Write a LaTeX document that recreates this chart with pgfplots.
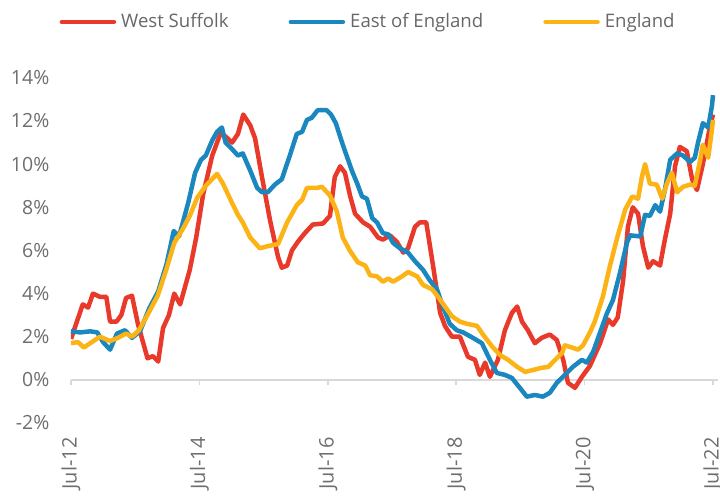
\documentclass[border=0pt]{standalone}
\usepackage{pgfplots}
\pgfplotsset{compat=1.18}
\usepackage{fontspec}
\setmainfont{Open Sans}
\definecolor{cRed}{HTML}{E8392A}
\definecolor{cBlue}{HTML}{1B87BF}
\definecolor{cOrange}{HTML}{FBB316}
\definecolor{cTick}{HTML}{6E6E6E}
\definecolor{cLeg}{HTML}{676767}
\definecolor{cAxis}{HTML}{D9D9D9}
\begin{document}
\begin{tikzpicture}
\begin{axis}[
  at={(0,0)}, anchor=south west,
  x=5.35bp, y=21.57bp,
  xmin=0, xmax=121, ymin=-2, ymax=14,
  axis x line=middle, axis y line=left,
  hide obscured x ticks=false, hide obscured y ticks=false,
  x axis line style={-, draw=cAxis, line width=1.5bp},
  y axis line style={draw=none},
  xtick={0,24,48,72,96,120},
  xticklabels={Jul-12,Jul-14,Jul-16,Jul-18,Jul-20,Jul-22},
  ytick={-2,0,2,4,6,8,10,12,14},
  yticklabels={-2\%,0\%,2\%,4\%,6\%,8\%,10\%,12\%,14\%},
  tick align=outside,
  major tick length=5.5bp,
  x tick style={draw=cAxis, line width=1.5bp},
  y tick style={draw=none},
  xticklabel style={font=\fontsize{20bp}{24bp}\selectfont, text=cTick, inner sep=0pt, yshift=-52bp, rotate=90, anchor=east},
  yticklabel style={font=\fontsize{19.5bp}{24bp}\selectfont, text=cTick, inner sep=0pt, anchor=east, xshift=-16bp},
  legend columns=3,
  legend style={draw=none, fill=none, inner sep=0pt, outer sep=0pt,
    at={(-0.0175,1.162)}, anchor=west,
    font=\fontsize{18.6bp}{22bp}\selectfont, text=cLeg,
    nodes={inner sep=0pt},
    /tikz/every odd column/.append style={column sep=5bp},
    /tikz/every even column/.append style={column sep=60bp, text height=13.4bp, text depth=0pt}},
  legend image code/.code={\draw[line width=4.5bp, line cap=round] (0bp,0bp) -- (52bp,0bp);},
  every axis plot/.append style={line width=4.5bp, line join=round, no markers},
]
\addplot[cRed] coordinates {
(0,1.9) (2.2,3.5) (3.2,3.35) (4.1,4.0) (5.4,3.85) (6.6,3.85) (7.3,2.7) (8.5,2.7) (9.4,3.0) (10.3,3.8) (11.4,3.9) (12.5,2.6) (13.4,1.8) (14.3,1.0) (15.3,1.1) (16.3,0.85) (17.2,2.4) (18.3,3.0) (19.3,4.0) (20.4,3.5) (22.2,5.1) (23.4,6.6) (24.7,8.6) (26.4,10.4) (27.9,11.4) (28.8,11.3) (30.1,11.0) (31.2,11.4) (32.2,12.3) (33.5,11.8) (34.4,11.2) (35.7,9.4) (37.2,7.4) (38.7,5.7) (39.4,5.2) (40.4,5.3) (41.3,6.0) (42.4,6.4) (43.7,6.8) (45.2,7.2) (47.1,7.25) (48.4,7.6) (49.3,9.4) (50.3,9.9) (51.2,9.6) (52.2,8.5) (53.1,7.7) (54.6,7.3) (55.9,7.1) (57.4,6.6) (58.3,6.5) (59.6,6.7) (60.9,6.4) (62.1,5.9) (63.0,6.1) (64.3,7.1) (65.2,7.3) (66.4,7.3) (67.7,5.25) (69.0,3.1) (69.9,2.5) (71.2,2.0) (72.7,2.0) (74.2,1.07) (75.5,0.93) (76.4,0.23) (77.4,0.8) (78.3,0.14) (79.8,0.93) (81.1,2.3) (82.4,3.1) (83.4,3.4) (84.3,2.7) (85.4,2.3) (86.7,1.7) (88.0,1.95) (89.5,2.1) (90.8,1.85) (92.0,0.93) (92.9,-0.14) (94.2,-0.37) (95.5,0.14) (97.0,0.65) (98.9,1.7) (100.4,2.8) (101.3,2.55) (102.2,2.9) (103.2,4.6) (104.1,7.1) (105.0,8.0) (106.0,7.7) (106.9,6.2) (107.9,5.2) (108.8,5.5) (110.1,5.3) (111.0,6.5) (112.0,7.7) (112.9,9.9) (113.8,10.8) (115.1,10.6) (116.1,9.3) (117.0,8.8) (118.1,10.0) (119.4,11.7) (120,12.3)
};
\addlegendentry{West Suffolk}
\addplot[cBlue] coordinates {
(0,2.25) (1.7,2.2) (3.6,2.25) (4.9,2.2) (6.0,1.75) (7.3,1.4) (8.6,2.15) (10.1,2.3) (11.4,1.95) (12.9,2.25) (14.6,3.3) (16.3,4.1) (17.9,5.4) (19.2,6.9) (20.2,6.65) (21.9,8.2) (23.2,9.6) (24.3,10.2) (25.2,10.4) (26.4,11.1) (27.3,11.5) (28.2,11.7) (28.9,11.0) (30.1,10.7) (31.2,10.4) (32.1,10.5) (33.5,9.7) (34.8,8.9) (35.7,8.7) (36.8,8.7) (38.1,9.05) (39.4,9.3) (40.9,10.4) (42.2,11.4) (43.2,11.5) (44.1,12.05) (45.0,12.15) (46.1,12.5) (47.8,12.5) (48.6,12.3) (49.5,11.9) (50.8,10.9) (52.5,9.7) (53.5,9.1) (54.4,8.5) (55.3,8.4) (56.3,7.5) (57.2,7.3) (58.3,6.8) (59.3,6.75) (60.2,6.35) (61.5,6.1) (63.0,5.9) (64.3,5.5) (65.8,5.1) (67.1,4.6) (68.4,4.2) (69.5,3.4) (70.8,2.6) (72.1,2.3) (73.3,2.2) (75.1,1.95) (76.8,1.7) (78.3,0.93) (79.6,0.32) (81.1,0.23) (82.4,0.09) (83.9,-0.37) (85.2,-0.78) (86.7,-0.7) (88.2,-0.78) (89.5,-0.6) (90.8,-0.14) (92.3,0.23) (93.8,0.6) (95.5,0.93) (96.4,0.8) (97.6,1.3) (98.9,2.2) (100.2,3.1) (101.3,3.7) (102.6,4.95) (103.9,6.35) (104.5,6.7) (106.4,6.65) (107.3,7.65) (108.2,7.6) (109.2,8.1) (110.1,7.8) (111.0,8.8) (112.0,10.2) (113.3,10.5) (114.4,10.4) (115.7,10.1) (116.6,10.3) (117.2,11.0) (118.1,11.9) (119.1,11.7) (119.8,12.7) (120,13.2)
};
\addlegendentry{East of England}
\addplot[cOrange] coordinates {
(0,1.7) (1.3,1.75) (2.4,1.5) (3.9,1.75) (5.4,2.0) (7.3,1.8) (8.8,1.95) (10.3,2.15) (11.4,2.0) (12.7,2.3) (14.5,3.1) (16.2,3.9) (17.8,5.1) (19.3,6.35) (20.8,6.95) (22.2,7.6) (23.6,8.45) (25.2,9.0) (27.3,9.55) (28.4,9.1) (30.1,8.2) (31.2,7.65) (32.1,7.3) (33.5,6.6) (35.3,6.1) (36.8,6.2) (38.7,6.3) (40.4,7.3) (42.2,8.1) (43.2,8.35) (44.1,8.9) (46.0,8.9) (46.9,8.95) (48.4,8.55) (49.7,7.8) (50.8,6.6) (52.1,6.0) (53.6,5.45) (55.0,5.3) (55.9,4.85) (57.2,4.8) (58.3,4.55) (59.3,4.7) (60.2,4.55) (61.9,4.8) (63.0,5.0) (64.7,4.8) (65.8,4.4) (67.5,4.2) (68.6,3.85) (69.9,3.4) (71.2,2.95) (72.7,2.7) (74.0,2.6) (75.9,2.5) (77.0,2.1) (78.7,1.55) (80.2,1.15) (81.7,0.93) (83.4,0.6) (84.9,0.37) (86.4,0.46) (88.0,0.56) (89.2,0.6) (90.5,0.93) (91.8,1.25) (92.3,1.6) (93.6,1.5) (94.8,1.4) (95.7,1.6) (97.0,2.2) (97.9,2.7) (99.4,3.85) (100.7,5.25) (102.1,6.6) (103.6,7.9) (104.9,8.5) (106.0,8.4) (106.7,9.4) (107.3,10.0) (108.2,9.1) (109.5,9.05) (110.5,8.4) (111.4,9.1) (112.3,9.6) (113.3,8.7) (114.4,8.95) (115.7,9.05) (116.6,9.0) (117.6,10.2) (118.1,10.9) (119.1,10.3) (119.8,11.6) (120,12.05)
};
\addlegendentry{England}
\end{axis}
\pgfresetboundingbox
\useasboundingbox (-71bp,-74bp) rectangle (649bp,423bp);
\end{tikzpicture}
\end{document}
